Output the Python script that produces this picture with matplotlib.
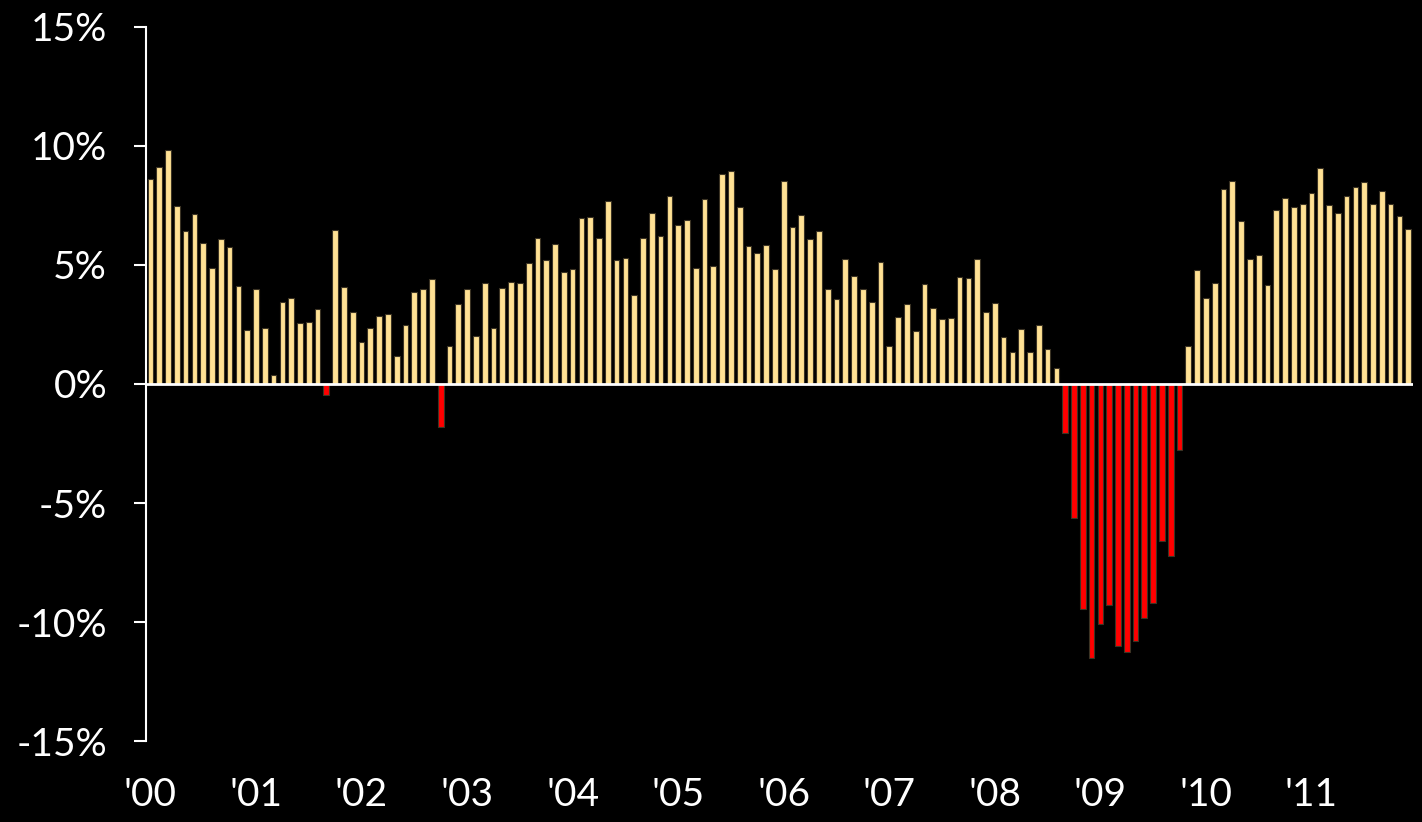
import matplotlib
matplotlib.use("Agg")
import matplotlib.pyplot as plt
import numpy as np

# monthly growth rates (%), Jan 2000 - Dec 2011
growth = [
    8.60, 9.12, 9.83, 7.48, 6.44, 7.14, 5.94, 4.87, 6.11, 5.74, 4.10, 2.28,
    3.98, 2.37, 0.39, 3.46, 3.63, 2.58, 2.59, 3.15, -0.46, 6.47, 4.06, 3.03,
    1.78, 2.34, 2.86, 2.94, 1.19, 2.48, 3.88, 3.99, 4.41, -1.80, 1.61, 3.36,
    4.00, 2.02, 4.26, 2.35, 4.05, 4.29, 4.24, 5.07, 6.12, 5.20, 5.90, 4.71,
    4.83, 6.96, 7.02, 6.15, 7.70, 5.20, 5.28, 3.73, 6.15, 7.18, 6.22, 7.89,
    6.68, 6.89, 4.89, 7.79, 4.97, 8.84, 8.94, 7.44, 5.81, 5.50, 5.84, 4.82,
    8.52, 6.60, 7.09, 6.11, 6.44, 4.01, 3.57, 5.24, 4.54, 4.01, 3.46, 5.13,
    1.58, 2.83, 3.36, 2.23, 4.19, 3.18, 2.74, 2.79, 4.50, 4.45, 5.24, 3.03,
    3.39, 1.96, 1.36, 2.30, 1.33, 2.48, 1.48, 0.69, -2.04, -5.63, -9.45, -11.53,
    -10.08, -9.30, -10.99, -11.27, -10.78, -9.82, -9.19, -6.61, -7.21, -2.79, 1.58, 4.80,
    3.61, 4.23, 8.19, 8.53, 6.86, 5.27, 5.42, 4.15, 7.30, 7.83, 7.45, 7.58,
    8.04, 9.09, 7.54, 7.20, 7.89, 8.26, 8.50, 7.55, 8.11, 7.56, 7.06, 6.51,
]
year_labels = ["'00", "'01", "'02", "'03", "'04", "'05",
               "'06", "'07", "'08", "'09", "'10", "'11"]
y_ticks = [-15, -10, -5, 0, 5, 10, 15]
y_labels = ["-15%", "-10%", "-5%", "0%", "5%", "10%", "15%"]

plt.rcParams['font.family'] = ['Lato', 'DejaVu Sans']

x = np.arange(len(growth))
vals = np.array(growth)
colors = np.where(vals < 0, "#ff0000", "#ffe194")

fig = plt.figure(figsize=(14.22, 8.22), dpi=100, facecolor="black")
ax = fig.add_axes([0.1027, 0.0985, 0.891, 0.8687])
ax.set_facecolor("black")

ax.bar(x, vals, width=0.65, color=colors, edgecolor="#3c3424", linewidth=0.8, zorder=2)
ax.axhline(0, color="white", linewidth=2, zorder=3)

ax.set_xlim(-0.5, 143.55)
ax.set_ylim(-15, 15)

ax.set_yticks(y_ticks)
ax.set_yticklabels(y_labels)
ax.set_xticks(x[::12])
ax.set_xticklabels(year_labels)

for s in ["top", "right", "bottom"]:
    ax.spines[s].set_visible(False)
ax.spines["left"].set_color("white")
ax.spines["left"].set_linewidth(1.5)

ax.tick_params(axis="y", colors="white", length=9, width=1.5, pad=19, labelsize=28)
ax.tick_params(axis="x", colors="white", length=0, pad=26, labelsize=28)

fig.savefig("out.png", dpi=100, facecolor="black")
